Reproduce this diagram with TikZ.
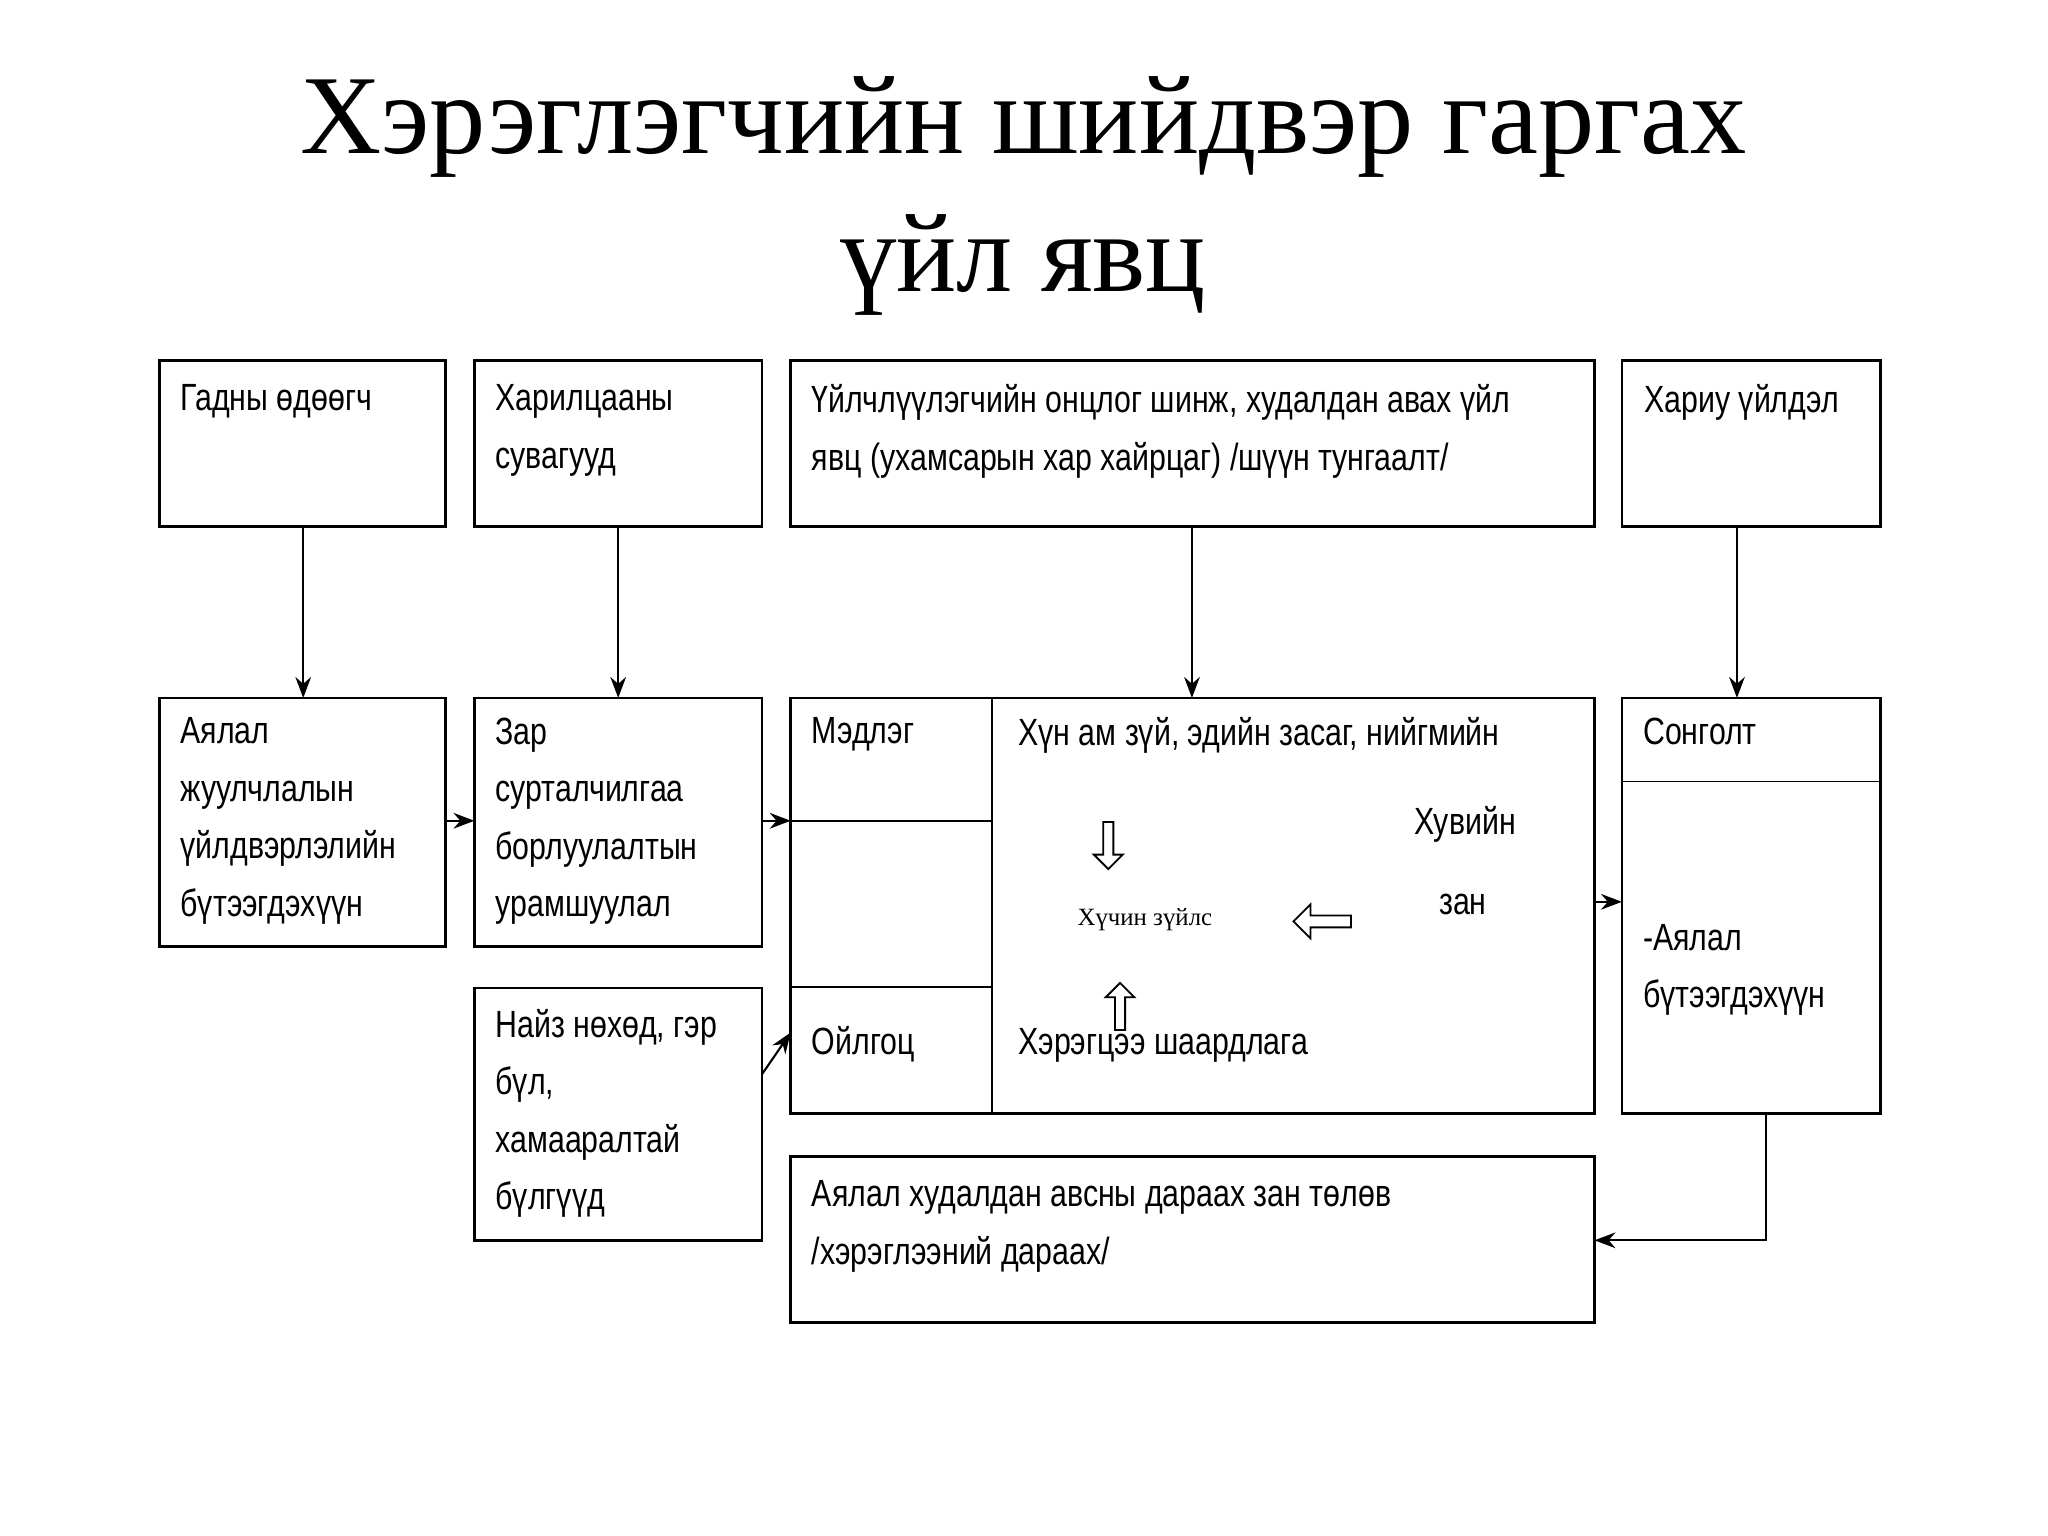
\documentclass[tikz,border=0pt]{standalone}
\usepackage{fontspec}
\setmainfont{Liberation Sans}[FakeStretch=0.8]
\newfontfamily\titlefont{Liberation Serif}
\usetikzlibrary{arrows.meta,shapes.arrows}
\begin{document}
\begin{tikzpicture}[x=1pt,y=-1pt,
  box/.style={draw,line width=2pt},
  txt/.style={anchor=north west,inner sep=0pt,align=left,font=\fontsize{29}{44}\selectfont},
  arr/.style={-{Stealth[length=16pt,width=12pt]},line width=1.6pt},
  harr/.style={single arrow,draw,line width=1.4pt,minimum height=44pt,minimum width=26pt,single arrow head extend=5pt,inner sep=2pt}]
\useasboundingbox (0,0) rectangle (1567,1175);
\node[font=\titlefont\fontsize{86}{106}\selectfont,align=center] (title) at (783,150) {Хэрэглэгчийн шийдвэр гаргах\\үйл явц};
% top row
\draw[box] (122,276) rectangle (341,403);
\node[txt] (a1) at (138,294) {Гадны өдөөгч};
\draw[box] (363,276) rectangle (583,403);
\node[txt] (a2) at (379,294) {Харилцааны\\сувагууд};
\draw[box] (605,276) rectangle (1220,403);
\node[txt] (a3) at (621,294) {Үйлчлүүлэгчийн онцлог шинж, худалдан авах үйл\\явц (ухамсарын хар хайрцаг) /шүүн тунгаалт/};
\draw[box] (1241,276) rectangle (1439,403);
\node[txt] (a4) at (1258,294) {Хариу үйлдэл};
% second row
\draw[box] (122,534) rectangle (341,724);
\node[txt] (b1) at (138,549) {Аялал\\жуулчлалын\\үйлдвэрлэлийн\\бүтээгдэхүүн};
\draw[box] (363,534) rectangle (583,724);
\node[txt] (b2) at (379,549) {Зар\\сурталчилгаа\\борлуулалтын\\урамшуулал};
\draw[box] (605,534) rectangle (1220,852);
\draw[line width=1.4pt] (759,534) -- (759,852) (605,628) -- (759,628) (605,755) -- (759,755);
\node[txt] (m1) at (621,549) {Мэдлэг};
\node[txt] (m2) at (621,785) {Ойлгоц};
\node[txt] (m3) at (779,549) {Хүн ам зүй, эдийн засаг, нийгмийн};
\node[txt] (m4) at (1082,617) {Хувийн};
\node[txt] (m5) at (1101,684) {зан};
\node[font=\titlefont\fontsize{19}{22}\selectfont] (m6) at (876,704) {Хүчин зүйлс};
\node[harr,rotate=-90,minimum height=36pt,minimum width=22pt] (d1) at (848,645) {};
\node[harr,rotate=180] (d2) at (1014,705) {};
\node[harr,rotate=90,minimum height=36pt,minimum width=22pt] (d3) at (857,772) {};
\node[txt] (m7) at (779,787) {Хэрэгцээ шаардлага};
\draw[box] (1241,534) rectangle (1439,852);
\draw[line width=1.4pt] (1241,598) -- (1439,598);
\node[txt] (s1) at (1257,549) {Сонголт};
\node[txt] (s2) at (1257,707) {-Аялал\\бүтээгдэхүүн};
% third row
\draw[box] (363,756) rectangle (583,949);
\node[txt] (c2) at (379,772) {Найз нөхөд, гэр\\бүл,\\хамааралтай\\бүлгүүд};
\draw[box] (605,885) rectangle (1220,1012);
\node[txt] (c3) at (621,903) {Аялал худалдан авсны дараах зан төлөв\\/хэрэглээний дараах/};
% coordinates and arrows
\coordinate (p1) at (232,403); \coordinate (q1) at (232,534);
\coordinate (p2) at (473,403); \coordinate (q2) at (473,534);
\coordinate (p3) at (912,403); \coordinate (q3) at (912,534);
\coordinate (p4) at (1329,403); \coordinate (q4) at (1329,534);
\draw[arr] (p1) -- (q1);
\draw[arr] (p2) -- (q2);
\draw[arr] (p3) -- (q3);
\draw[arr] (p4) -- (q4);
\coordinate (r1) at (341,628); \coordinate (r2) at (363,628);
\coordinate (r3) at (583,628); \coordinate (r4) at (605,628);
\draw[arr] (r1) -- (r2);
\draw[arr] (r3) -- (r4);
\coordinate (r5) at (583,822); \coordinate (r6) at (605,790);
\draw[arr] (r5) -- (r6);
\coordinate (r7) at (1220,690); \coordinate (r8) at (1241,690);
\draw[arr] (r7) -- (r8);
\coordinate (r9) at (1351,852); \coordinate (r10) at (1220,949);
\draw[arr] (r9) |- (r10);
\end{tikzpicture}
\end{document}
